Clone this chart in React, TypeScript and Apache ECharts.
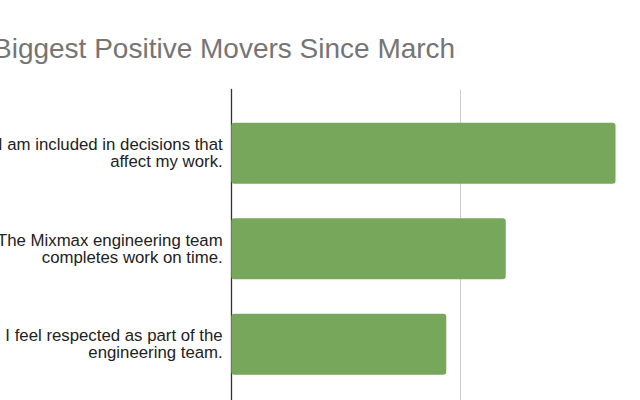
import React, { useEffect, useRef } from "react";
import * as echarts from "echarts";

const titleText = "Biggest Positive Movers Since March";
const categories = [
  "I am included in decisions that\naffect my work.",
  "The Mixmax engineering team\ncompletes work on time.",
  "I feel respected as part of the\nengineering team.",
];
const values = [0.84, 0.6, 0.47];
const xTickInterval = 0.5;
const xMax = 0.8935;

export default function App() {
  const ref = useRef<HTMLDivElement>(null);
  useEffect(() => {
    if (!ref.current) return;
    const chart = echarts.init(ref.current, null, { renderer: "svg" });
    const font = "'Liberation Sans', Arial, sans-serif";
    const gridLeft = 231.3;
    chart.setOption({
      animation: false,
      backgroundColor: "#ffffff",
      title: {
        text: titleText,
        left: -12,
        top: 29,
        textStyle: { fontFamily: font, fontSize: 28, fontWeight: "normal", color: "#757575" },
      },
      grid: [
        { left: gridLeft, top: 105.5, right: 0, height: 286.5, outerBoundsMode: "none", containLabel: false },
        { left: gridLeft, top: 89.5, right: 0, height: 330, outerBoundsMode: "none", containLabel: false },
      ],
      xAxis: [
        { type: "value", gridIndex: 0, min: 0, max: xMax, interval: xTickInterval, show: false },
        {
          type: "value",
          gridIndex: 1,
          min: 0,
          max: xMax,
          interval: xTickInterval,
          axisLine: { show: false },
          axisTick: { show: false },
          axisLabel: { show: false },
          splitLine: { show: true, lineStyle: { color: "#cccccc", width: 1 } },
        },
      ],
      yAxis: [
        {
          type: "category",
          gridIndex: 0,
          inverse: true,
          data: categories,
          axisLine: { show: false },
          axisTick: { show: false },
          axisLabel: {
            margin: 8.6,
            fontFamily: font,
            fontSize: 16.8,
            lineHeight: 17,
            color: "#222222",
            align: "right",
          },
        },
        {
          type: "value",
          gridIndex: 1,
          axisLine: { show: true, lineStyle: { color: "#333333", width: 1.3 } },
          axisTick: { show: false },
          axisLabel: { show: false },
          splitLine: { show: false },
        },
      ],
      series: [
        {
          type: "bar",
          xAxisIndex: 0,
          yAxisIndex: 0,
          data: values,
          barWidth: 61,
          itemStyle: { color: "#77a75a", borderRadius: 3 },
          z: 3,
        },
      ],
    });
    return () => chart.dispose();
  }, []);
  return (
    <div
      ref={ref}
      style={{ position: "fixed", left: 0, top: 0, width: 640, height: 400 }}
    />
  );
}
